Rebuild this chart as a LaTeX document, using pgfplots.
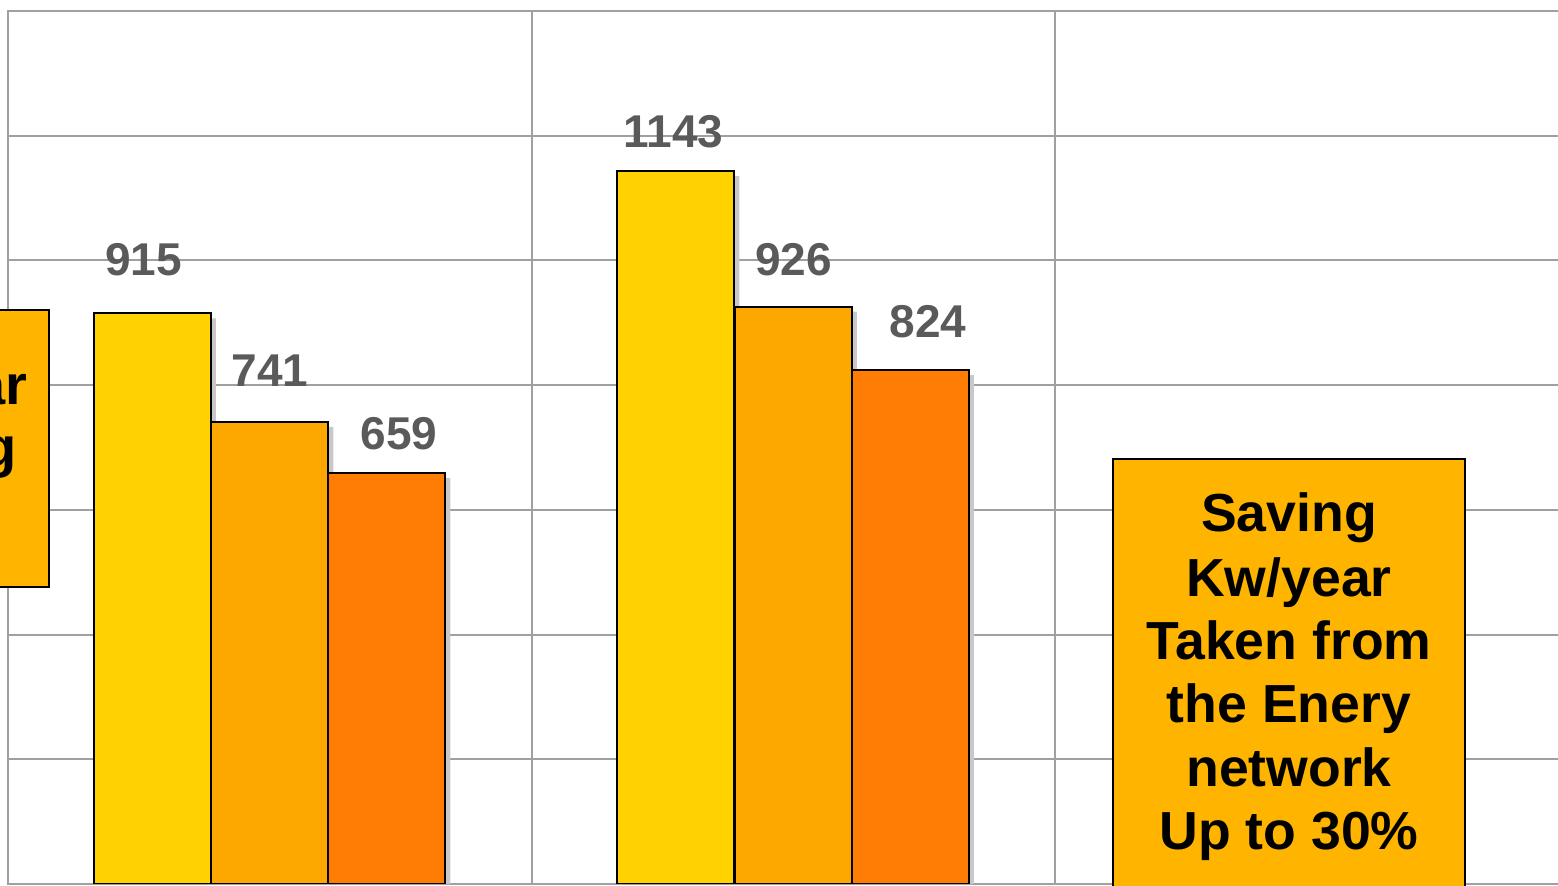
\documentclass[border=0pt]{standalone}
\usepackage{pgfplots}
\pgfplotsset{compat=1.18}
\usepackage{fontspec}
\setmainfont{Liberation Sans}
\definecolor{cYel}{HTML}{FFD200}
\definecolor{cOra}{HTML}{FCA800}
\definecolor{cDor}{HTML}{FF7D05}
\definecolor{cBox}{HTML}{FFB500}
\definecolor{cLab}{HTML}{5A5A5A}
\definecolor{cGrid}{HTML}{A0A0A0}
\definecolor{cShadow}{HTML}{C8C8C8}
\begin{document}
\begin{tikzpicture}
\useasboundingbox (0,0) rectangle (779pt,443pt);
\clip (0,0) rectangle (779pt,443pt);
\begin{axis}[
  at={(4pt,1pt)}, anchor=south west, scale only axis,
  width=785.25pt, height=436.5pt,
  xmin=-0.5, xmax=2.5, ymin=0, ymax=1400,
  xtick={-0.5,0.5,1.5,2.5}, ytick={0,200,...,1400},
  xticklabels={}, yticklabels={},
  major tick length=0pt,
  grid=major, grid style={cGrid, line width=1pt},
  axis line style={cGrid, line width=1pt},
]
% shadows
\addplot[ybar, bar width=58.5pt, bar shift=-56.25pt, fill=cShadow, draw=none] coordinates {(0,907) (1,1135)};
\addplot[ybar, bar width=58.5pt, bar shift=2.5pt, fill=cShadow, draw=none] coordinates {(0,733) (1,918)};
\addplot[ybar, bar width=58.5pt, bar shift=61pt, fill=cShadow, draw=none] coordinates {(0,651) (1,816)};
% bars
\addplot[ybar, bar width=58.5pt, bar shift=-58.75pt, fill=cYel, draw=black, line width=1pt] coordinates {(0,915) (1,1143)};
\addplot[ybar, bar width=58.5pt, bar shift=0pt, fill=cOra, draw=black, line width=1pt] coordinates {(0,741) (1,926)};
\addplot[ybar, bar width=58.5pt, bar shift=58.5pt, fill=cDor, draw=black, line width=1pt] coordinates {(0,659) (1,824)};
% value labels
\begin{scope}[every node/.style={anchor=base, text=cLab, font=\fontsize{23}{27}\selectfont\bfseries, inner sep=0pt}]
\node at (axis cs:-0.241,976.6) {915};
\node at (axis cs:0.0005,797) {741};
\node at (axis cs:0.2469,696) {659};
\node at (axis cs:0.7713,1181.8) {1143};
\node at (axis cs:1.0005,976.6) {926};
\node at (axis cs:1.2574,875.6) {824};
\end{scope}
\end{axis}
% left text box (cut off at the page edge, as in the reference)
\draw[fill=cBox, line width=1pt] (-200pt,149.5pt) rectangle (24.5pt,288pt);
\begin{scope}[every node/.style={inner sep=0pt, font=\fontsize{28}{33}\selectfont\bfseries}]
\node[anchor=base east] at (14pt,240.5pt) {Kw/year};
\node[anchor=base east] at (8.5pt,209.5pt) {Heating};
\end{scope}
% right text box
\draw[fill=cBox, line width=1pt] (556.5pt,-10pt) rectangle (732.5pt,213.5pt);
\begin{scope}[every node/.style={anchor=base, inner sep=0pt, font=\fontsize{26.8}{31}\selectfont\bfseries}]
\node at (644.5pt,177pt) {Saving};
\node at (644.5pt,144.5pt) {Kw/year};
\node at (644.5pt,113pt) {Taken from};
\node at (644.5pt,81.5pt) {the Enery};
\node at (644.5pt,49.5pt) {network};
\node at (644.5pt,18pt) {Up to 30\%};
\end{scope}
\end{tikzpicture}
\end{document}
